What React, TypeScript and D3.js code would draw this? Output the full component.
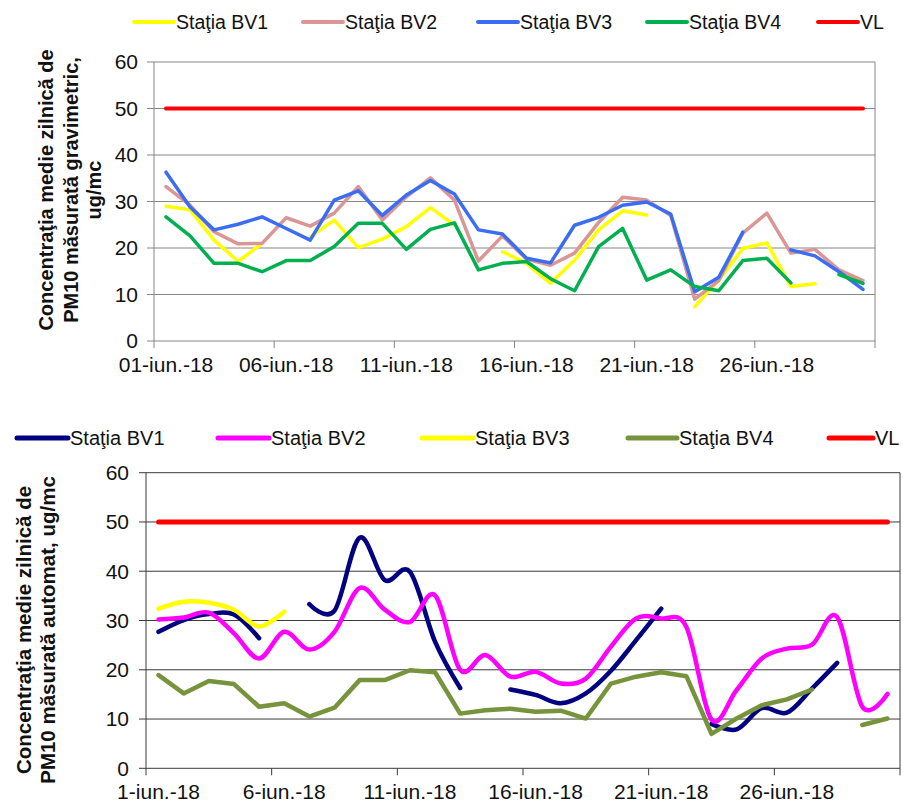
import React from "react";
import * as d3 from "d3";

// ---------- data ----------
const days: number[] = Array.from({ length: 30 }, (_, i) => i + 1);
const tickDays = [1, 6, 11, 16, 21, 26];
const yTicks = [0, 10, 20, 30, 40, 50, 60];
const VL = 50;

type V = number | null;

// Top chart: gravimetric
const gravBV1: V[] = [29.0, 28.2, 21.7, 17.1, 21.0, null, 22.4, 26.0, 20.1, 21.9, 24.6, 28.7, 24.9, null, 19.2, 16.7, 12.4, 17.4, 23.9, 28.0, 27.1, null, 7.4, 13.1, 19.9, 21.1, 11.7, 12.3, null, null];
const gravBV2: V[] = [33.2, 29.2, 23.5, 20.9, 21.0, 26.5, 24.7, 27.5, 33.2, 26.0, 31.0, 35.1, 30.3, 17.2, 22.6, 17.6, 16.3, 18.9, 25.5, 30.9, 30.3, 27.0, 9.0, 13.0, 23.2, 27.5, 18.9, 19.7, 15.3, 13.0];
const gravBV3: V[] = [36.3, 28.8, 23.9, 25.1, 26.7, 24.2, 21.7, 30.3, 32.3, 27.0, 31.4, 34.5, 31.6, 23.9, 23.0, 17.8, 16.8, 24.9, 26.6, 29.2, 29.9, 27.3, 10.6, 13.7, 23.4, null, 19.6, 18.3, 14.9, 11.1];
const gravBV4: V[] = [26.7, 22.6, 16.7, 16.7, 14.9, 17.3, 17.3, 20.3, 25.3, 25.3, 19.7, 24.0, 25.4, 15.3, 16.7, 17.1, 13.4, 10.8, 20.3, 24.2, 13.1, 15.3, 11.7, 10.8, 17.3, 17.8, 12.5, null, 14.3, 12.4];

// Bottom chart: automatic
const autoBV1: V[] = [27.7, 30.1, 31.3, 31.2, 26.4, null, 33.3, 32.0, 46.8, 38.2, 39.9, 25.7, 16.3, null, 16.0, 14.9, 13.2, 15.2, 19.8, 26.0, 32.4, null, 9.0, 7.9, 12.2, 11.3, 16.2, 21.4, null, null];
const autoBV2: V[] = [30.2, 30.6, 31.6, 27.4, 22.3, 27.7, 24.1, 27.7, 36.6, 32.2, 29.7, 35.1, 20.0, 23.0, 18.6, 19.6, 17.2, 18.2, 24.7, 30.4, 30.4, 28.7, 9.9, 15.9, 22.3, 24.3, 25.1, 30.7, 12.5, 15.1];
const autoBV3: V[] = [32.4, 33.8, 33.6, 32.2, 28.8, 31.8, null, null, null, null, null, null, null, null, null, null, null, null, null, null, null, null, null, null, null, null, null, null, null, null];
const autoBV4: V[] = [18.9, 15.2, 17.7, 17.1, 12.5, 13.2, 10.5, 12.3, 17.9, 17.9, 19.9, 19.5, 11.1, 11.8, 12.1, 11.5, 11.7, 10.1, 17.2, 18.6, 19.5, 18.7, 7.0, 10.1, 12.8, 14.0, 16.0, null, 8.8, 10.1];

const legendNames = ["Staţia BV1", "Staţia BV2", "Staţia BV3", "Staţia BV4", "VL"];

const FONT = "'Liberation Sans', Arial, sans-serif";

interface SeriesDef {
  values: V[] | null;
  color: string;
  smooth: boolean;
}

interface ChartProps {
  x0: number;
  x1: number;
  yTop: number;
  yBottom: number;
  series: SeriesDef[];
  gridColor: string;
  axisColor: string;
  tickFmt: (d: number) => string;
  labelBaseline: number;
  yLabelRight: number;
  legendY: number;
  legendX: number[];
  legendLen: number[];
  legendFont: number;
  lineW: number;
  legendLineW: number;
  titleLines: string[];
  titleX: number[];
  titleY: number;
  titleFont: number;
}

function Chart(p: ChartProps) {
  const x = d3.scaleBand<number>().domain(days).range([p.x0, p.x1]).padding(0);
  const cx = (d: number) => (x(d) as number) + x.bandwidth() / 2;
  const y = d3.scaleLinear().domain([0, 60]).range([p.yBottom, p.yTop]);

  const mk = (smooth: boolean) =>
    d3
      .line<V>()
      .defined((v) => v !== null)
      .x((_, i) => cx(days[i]))
      .y((v) => y(v as number))
      .curve(smooth ? d3.curveCardinal.tension(0) : d3.curveLinear);

  const boundaries = [0, 5, 10, 15, 20, 25, 30].map((k) => p.x0 + k * x.bandwidth());

  return (
    <g>
      {yTicks.map((t) => (
        <line key={"g" + t} x1={p.x0} x2={p.x1} y1={y(t)} y2={y(t)} stroke={t === 0 ? p.axisColor : p.gridColor} strokeWidth={1} />
      ))}
      <line x1={p.x1} x2={p.x1} y1={y(60)} y2={y(0)} stroke={p.gridColor} strokeWidth={1} />
      <line x1={p.x0} x2={p.x0} y1={y(60)} y2={y(0)} stroke={p.axisColor} strokeWidth={1} />
      {yTicks.map((t) => (
        <g key={"yt" + t}>
          <line x1={p.x0 - 7} x2={p.x0} y1={y(t)} y2={y(t)} stroke={p.axisColor} />
          <text x={p.yLabelRight} y={y(t)} dy="0.35em" textAnchor="end" fontSize={21} fontFamily={FONT} fill="#111">
            {t}
          </text>
        </g>
      ))}
      {boundaries.map((bx, i) => (
        <line key={"xt" + i} x1={bx} x2={bx} y1={y(0)} y2={y(0) + 7} stroke={p.axisColor} />
      ))}
      {tickDays.map((d) => (
        <text key={"xl" + d} x={cx(d)} y={p.labelBaseline} textAnchor="middle" fontSize={21} fontFamily={FONT} fill="#111">
          {p.tickFmt(d)}
        </text>
      ))}
      <line x1={cx(days[0])} x2={cx(days[days.length - 1])} y1={y(VL)} y2={y(VL)} stroke="#FF0000" strokeWidth={p.lineW + 0.5} strokeLinecap="round" />
      {p.series.map((s, i) =>
        s.values ? (
          <path key={"s" + i} d={mk(s.smooth)(s.values) || ""} fill="none" stroke={s.color} strokeWidth={p.lineW} strokeLinejoin="round" strokeLinecap="round" />
        ) : null
      )}
      {legendNames.map((n, i) => {
        const col = i < 4 ? p.series[i].color : "#FF0000";
        const lx = p.legendX[i];
        const len = p.legendLen[i];
        return (
          <g key={"lg" + i}>
            <line x1={lx} x2={lx + len} y1={p.legendY} y2={p.legendY} stroke={col} strokeWidth={p.legendLineW} strokeLinecap="round" />
            <text x={lx + len + 2} y={p.legendY} dy="0.35em" fontSize={p.legendFont} fontFamily={FONT} fill="#111">
              {n}
            </text>
          </g>
        );
      })}
      {p.titleLines.map((t, i) => (
        <text
          key={"tt" + i}
          transform={`translate(${p.titleX[i]},${p.titleY}) rotate(-90)`}
          textAnchor="middle"
          fontSize={p.titleFont}
          fontWeight="bold"
          fontFamily={FONT}
          fill="#111"
        >
          {t}
        </text>
      ))}
    </g>
  );
}

export default function App() {
  return (
    <svg width={903} height={802} style={{ position: "absolute", left: 0, top: 0, background: "#fff" }}>
      <rect width={903} height={802} fill="#fff" />
      <Chart
        x0={154}
        x1={875}
        yTop={62}
        yBottom={341}
        gridColor="#868686"
        axisColor="#868686"
        tickFmt={(d) => `${String(d).padStart(2, "0")}-iun.-18`}
        labelBaseline={372}
        yLabelRight={138}
        legendY={22}
        legendX={[134, 303, 478, 647, 818]}
        legendLen={[40, 40, 40, 40, 40]}
        legendFont={19.5}
        lineW={3.5}
        legendLineW={4}
        titleLines={["Concentraţia medie zilnică de", "PM10 măsurată gravimetric,", "ug/mc"]}
        titleX={[53, 78, 101]}
        titleY={190}
        titleFont={20}
        series={[
          { values: gravBV1, color: "#FFFF00", smooth: false },
          { values: gravBV2, color: "#D99694", smooth: false },
          { values: gravBV3, color: "#3A6CF4", smooth: false },
          { values: gravBV4, color: "#00B050", smooth: false },
        ]}
      />
      <Chart
        x0={146}
        x1={900}
        yTop={472.7}
        yBottom={768.3}
        gridColor="#3a3a3a"
        axisColor="#3a3a3a"
        tickFmt={(d) => `${d}-iun.-18`}
        labelBaseline={799}
        yLabelRight={129}
        legendY={438}
        legendX={[17, 218, 422, 628, 829]}
        legendLen={[51, 51, 51, 49, 44]}
        legendFont={20}
        lineW={4.5}
        legendLineW={5}
        titleLines={["Concentraţia medie zilnică de", "PM10 măsurată automat, ug/mc"]}
        titleX={[31, 55]}
        titleY={630}
        titleFont={20.5}
        series={[
          { values: autoBV1, color: "#000080", smooth: true },
          { values: autoBV2, color: "#FF00FF", smooth: true },
          { values: autoBV3, color: "#FFFF00", smooth: true },
          { values: autoBV4, color: "#77933C", smooth: false },
        ]}
      />
    </svg>
  );
}
